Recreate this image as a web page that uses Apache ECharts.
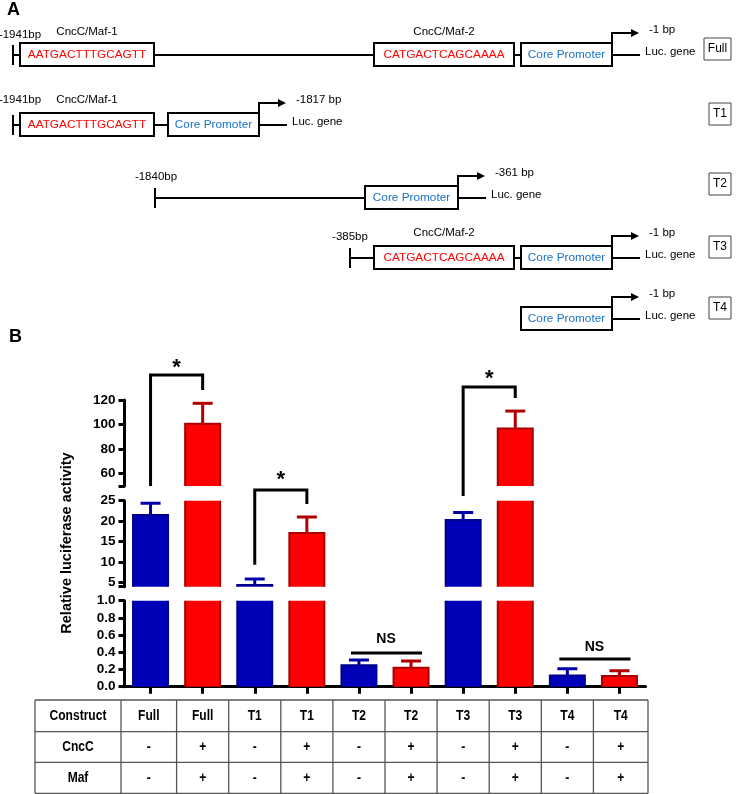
<!DOCTYPE html>
<html><head><meta charset="utf-8">
<script src="https://cdn.jsdelivr.net/npm/echarts@6/dist/echarts.min.js"></script>
<style>html,body{margin:0;padding:0;background:#fff}#c{width:740px;height:794px}</style>
</head><body><div id="c"></div>
<script>
// ---------------- data ----------------
const categories = ['Full','Full','T1','T1','T2','T2','T3','T3','T4','T4'];
const cncc = ['-','+','-','+','-','+','-','+','-','+'];
const maf  = ['-','+','-','+','-','+','-','+','-','+'];
const means = [21.5, 100.7, 4.4, 17.1, 0.25, 0.22, 20.3, 96.9, 0.13, 0.125];
const errs  = [2.9, 16.6, 1.5, 3.9, 0.06, 0.08, 1.8, 14.1, 0.08, 0.06];
const segMin = [50, 4, 0];
const segMax = [120, 25, 1];
const topTicks = [60, 80, 100, 120];
const midTicks = [5, 10, 15, 20, 25];
const lowTicks = [0, 0.2, 0.4, 0.6, 0.8, 1.0];
const yAxisTitle = 'Relative luciferase activity';
const tableRows = ['Construct', 'CncC', 'Maf'];
// significance: category pair, segment, bracket top, leg ends, star height
const brackets = [
  {a:0, b:1, seg:0, top:140.4, legA:50, legB:128.1, star:150.5, text:'*'},
  {a:2, b:3, seg:1, top:27.6, legA:9.35, legB:24.2, star:31.3, text:'*'},
  {a:6, b:7, seg:0, top:130.6, legA:41.8, legB:121.6, star:141.0, text:'*'}
];
const nsMarks = [
  {a:4, b:5, seg:2, line:0.392, label:0.555, text:'NS'},
  {a:8, b:9, seg:2, line:0.322, label:0.46, text:'NS'}
];
// panel A texts
const constructs = ['Full','T1','T2','T3','T4'];
const startLabels = ['-1941bp','-1941bp','-1840bp','-385bp',''];
const endLabels = ['-1 bp','-1817 bp','-361 bp','-1 bp','-1 bp'];
const siteNames = ['CncC/Maf-1','CncC/Maf-2'];
const siteSeqs = ['AATGACTTTGCAGTT','CATGACTCAGCAAAA'];
const coreText = 'Core Promoter';
const geneText = 'Luc. gene';

// ---------------- layout (schematic) ----------------
const FONT = 'Liberation Sans, Arial, Helvetica, sans-serif';
const schematic = [
  {row:0, top:43, start:13, sLX:20, sLY:35, sites:[{s:0,x0:20,x1:154,ly:32},{s:1,x0:374,x1:514,ly:32}], core:[521,612], tag:[704,38]},
  {row:1, top:113, start:13, sLX:20, sLY:100, sites:[{s:0,x0:20,x1:154,ly:100}], core:[168,259], tag:[709,103]},
  {row:2, top:186, start:155, sLX:156, sLY:177, sites:[], core:[365,458], tag:[709,173]},
  {row:3, top:246, start:350, sLX:350, sLY:237, sites:[{s:1,x0:374,x1:514,ly:233}], core:[521,612], tag:[709,236]},
  {row:4, top:307, start:null, sites:[], core:[521,612], tag:[709,297]}
];

const chart = echarts.init(document.getElementById('c'), null, {renderer:'canvas'});

const palette = {
  fill: {'-':'#0000B8', '+':'#FF0000'},
  edge: {'-':'#000088', '+':'#A80000'},
  err:  {'-':'#0000A8', '+':'#B00000'}
};

const gridTops = [400, 500.7, 600.7];
const grids = gridTops.map(t => ({left:124.5, width:521, top:t, height:86}));

const xAxes = grids.map((g, k) => ({
  type:'category', gridIndex:k, data:categories, boundaryGap:true,
  show: k === 2,
  axisLine:{show:true, lineStyle:{color:'#000', width:3}},
  axisTick:{show:true, alignWithLabel:true, length:7, lineStyle:{color:'#000', width:3}},
  axisLabel:{show:false}, splitLine:{show:false}
}));

const tickSets = [[50].concat(topTicks), [4].concat(midTicks), lowTicks];
const labelSets = [topTicks, midTicks, lowTicks];
const yAxes = grids.map((g, k) => ({
  type:'value', gridIndex:k, min:segMin[k], max:segMax[k],
  interval: k === 2 ? 0.2 : undefined,
  axisLine:{show:true, lineStyle:{color:'#000', width:3}},
  axisTick:{show:true, length:6, lineStyle:{color:'#000', width:3}, customValues: k === 2 ? undefined : tickSets[k]},
  axisLabel:{show:true, margin:9, color:'#000', fontFamily:FONT, fontWeight:'bold', fontSize:13.5,
    customValues: k === 2 ? undefined : labelSets[k],
    formatter: v => k === 2 ? Number(v).toFixed(1) : String(v)},
  splitLine:{show:false}
}));

const seriesData = means.map((m, i) => [i, m, errs[i], cncc[i] === '+' ? 1 : 0]);

function renderBar(params, api) {
  const i = api.value(0), v = api.value(1), e = api.value(2);
  const key = api.value(3) ? '+' : '-';
  const base = api.coord([i, 0]);
  const top = api.coord([i, v]);
  const et = api.coord([i, v + e]);
  const bw = 35, x = base[0];
  return {type:'group', children:[
    {type:'rect', shape:{x:x - bw/2, y:top[1], width:bw, height:(base[1] - top[1]) + 6},
      style:{fill:palette.fill[key], stroke:palette.edge[key], lineWidth:2}},
    {type:'line', shape:{x1:x, y1:top[1], x2:x, y2:et[1]}, style:{stroke:palette.err[key], lineWidth:3}},
    {type:'line', shape:{x1:x - 10, y1:et[1], x2:x + 10, y2:et[1]}, style:{stroke:palette.err[key], lineWidth:3}}
  ]};
}

const series = grids.map((g, k) => ({
  type:'custom', xAxisIndex:k, yAxisIndex:k, clip:true,
  data:seriesData, encode:{x:0, y:1}, renderItem:renderBar, silent:true
}));

chart.setOption({
  animation:false,
  grid:grids, xAxis:xAxes, yAxis:yAxes, series:series
});

// ---------------- annotations ----------------
function px(seg, cat, val) {
  return chart.convertToPixel({xAxisIndex:seg, yAxisIndex:seg}, [cat, val]);
}
const G = [];
const txt = (x, y, s, o, extra) => Object.assign({type:'text', x:x, y:y, silent:true,
  style:Object.assign({text:s, fill:'#000', font:'11.5px ' + FONT, textAlign:'left', textVerticalAlign:'middle'}, o || {})}, extra || {});
const line = (x1, y1, x2, y2, w, c) => ({type:'line', silent:true, shape:{x1, y1, x2, y2}, style:{stroke:c || '#000', lineWidth:w || 2}});

// panel labels
G.push(txt(7, 10, 'A', {font:'bold 18px ' + FONT}));
G.push(txt(9, 337, 'B', {font:'bold 18px ' + FONT}));

// panel A schematic
schematic.forEach(r => {
  const ly = r.top + 12, bh = 23;
  const [c0, c1] = r.core;
  if (r.start !== null) {
    G.push(line(r.start, ly, c0, ly, 2));
    G.push(line(r.start, r.top + 2, r.start, r.top + 22, 2));
    G.push(txt(r.sLX, r.sLY, startLabels[r.row], {textAlign:'center'}));
  }
  r.sites.forEach(s => {
    G.push({type:'rect', silent:true, shape:{x:s.x0, y:r.top, width:s.x1 - s.x0, height:bh}, style:{fill:'#fff', stroke:'#000', lineWidth:2}});
    G.push(txt((s.x0 + s.x1) / 2, r.top + bh / 2 + 0.5, siteSeqs[s.s], {textAlign:'center', fill:'#FF0000', font:'11.8px ' + FONT}));
    G.push(txt((s.x0 + s.x1) / 2, s.ly, siteNames[s.s], {textAlign:'center'}));
  });
  G.push({type:'rect', silent:true, shape:{x:c0, y:r.top, width:c1 - c0, height:bh}, style:{fill:'#fff', stroke:'#000', lineWidth:2}});
  G.push(txt((c0 + c1) / 2, r.top + bh / 2 + 0.5, coreText, {textAlign:'center', fill:'#1A72C8', font:'11.8px ' + FONT}));
  const ay = r.top - 10;
  G.push({type:'polyline', silent:true, shape:{points:[[c1, r.top], [c1, ay], [c1 + 20, ay]]}, style:{stroke:'#000', lineWidth:2, fill:null}});
  G.push({type:'polygon', silent:true, shape:{points:[[c1 + 27, ay], [c1 + 19, ay - 4], [c1 + 19, ay + 4]]}, style:{fill:'#000'}});
  G.push(txt(c1 + 37, ay - 3, endLabels[r.row]));
  G.push(line(c1, ly, c1 + 28, ly, 2));
  G.push(txt(c1 + 33, ly - 3, geneText));
  const [tx, ty] = r.tag;
  G.push({type:'rect', silent:true, shape:{x:tx, y:ty, width:731 - tx, height:22}, style:{fill:'#fff', stroke:'#444', lineWidth:1}});
  G.push(txt((tx + 731) / 2, ty + 11, constructs[r.row], {textAlign:'center', font:'12px ' + FONT}));
});

// y axis title
G.push({type:'text', x:67, y:543, rotation:Math.PI / 2, silent:true,
  style:{text:yAxisTitle, fill:'#000', font:'bold 14.5px ' + FONT, textAlign:'center', textVerticalAlign:'middle'}});

// significance brackets
brackets.forEach(b => {
  const xa = px(b.seg, b.a, 0)[0], xb = px(b.seg, b.b, 0)[0];
  const yt = px(b.seg, b.a, b.top)[1];
  const ya = px(b.seg, b.a, b.legA)[1];
  const yb = px(b.seg, b.b, b.legB)[1];
  G.push({type:'polyline', silent:true, shape:{points:[[xa, ya], [xa, yt], [xb, yt], [xb, yb]]}, style:{stroke:'#000', lineWidth:3, fill:null}});
  const ys = px(b.seg, b.a, b.star)[1];
  G.push(txt((xa + xb) / 2, ys + 5, b.text, {textAlign:'center', font:'bold 22px ' + FONT}));
});
nsMarks.forEach(n => {
  const xa = px(n.seg, n.a, 0)[0], xb = px(n.seg, n.b, 0)[0];
  const yl = px(n.seg, n.a, n.line)[1];
  const yt = px(n.seg, n.a, n.label)[1];
  G.push(line(xa - 8, yl, xb + 11, yl, 3));
  G.push(txt((xa + xb) / 2 + 1, yt, n.text, {textAlign:'center', font:'bold 14px ' + FONT}));
});

// table
const c0x = px(2, 0, 0)[0], c1x = px(2, 1, 0)[0];
const half = (c1x - c0x) / 2;
const colEdges = [35];
for (let i = 0; i <= categories.length; i++) colEdges.push(c0x - half + i * 2 * half);
colEdges[1] -= 3.5; colEdges[colEdges.length - 1] += 2.5;
const rowEdges = [700, 731.7, 762.3, 793.3];
const tL = colEdges[0], tR = colEdges[colEdges.length - 1];
rowEdges.forEach(y => G.push(line(tL, y, tR, y, 1.3, '#555')));
colEdges.forEach(x => G.push(line(x, rowEdges[0], x, rowEdges[3], 1.3, '#555')));
const cells = [categories, cncc, maf];
const narrow = {scaleX:0.86};
tableRows.forEach((name, r) => {
  const cy = (rowEdges[r] + rowEdges[r + 1]) / 2;
  G.push(txt((colEdges[0] + colEdges[1]) / 2, cy, name, {textAlign:'center', font:'bold 14px ' + FONT}, narrow));
  cells[r].forEach((v, i) => {
    G.push(txt((colEdges[i + 1] + colEdges[i + 2]) / 2, cy, v, {textAlign:'center', font:'bold 14px ' + FONT}, narrow));
  });
});

chart.setOption({graphic:{elements:G}});
</script>
</body></html>
